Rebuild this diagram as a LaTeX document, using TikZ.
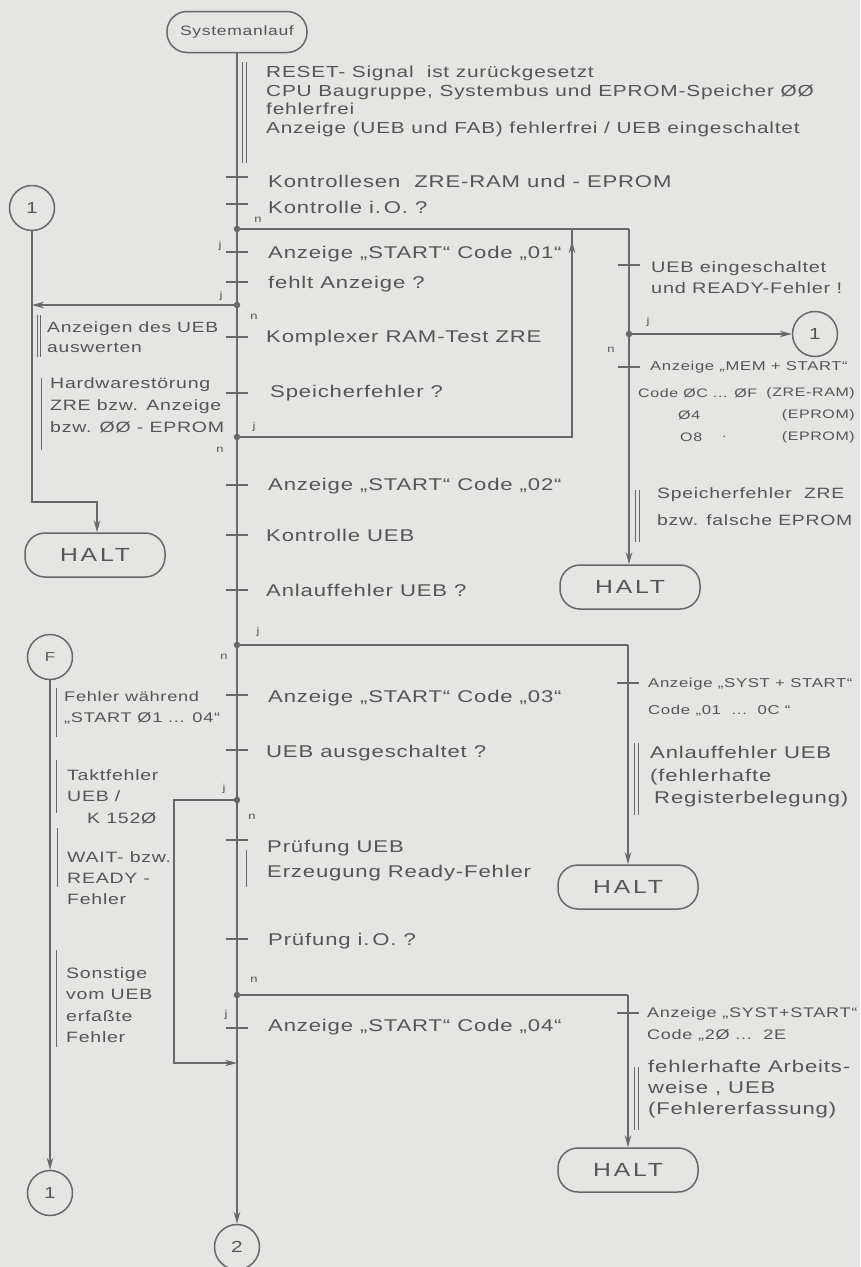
\documentclass[tikz,border=0pt]{standalone}
\usepackage{fontspec}
\setmainfont{Liberation Sans}[FakeStretch=1.3, LetterSpace=5]
\usetikzlibrary{arrows.meta}
\definecolor{bg}{HTML}{E5E5E3}
\definecolor{ink}{HTML}{686868}
\definecolor{txt}{HTML}{555555}
\newcommand\fs[2]{\fontsize{#1}{#2}\selectfont}
\tikzset{
  ln/.style={draw=ink, line width=1.5pt},
  arr/.style={ln, -{Stealth[length=12pt,width=6.5pt]}},
  term/.style={draw=ink, line width=1.5pt, rounded corners=20pt, minimum width=140pt, minimum height=44pt, inner sep=0pt, font=\fs{19}{20}\addfontfeature{LetterSpace=15}, text=txt},
  conn/.style={circle, draw=ink, line width=1.5pt, minimum size=45pt, inner sep=0pt, font=\fs{16}{16}, text=txt},
  lbl/.style={anchor=north west, text=txt, font=\fs{17}{25}, inner sep=0pt, align=left},
  one/.style={lbl, anchor=west},
  yn/.style={text=txt, font=\fs{10}{10}, inner sep=0pt},
  dot/.style={circle, fill=ink, inner sep=0pt, minimum size=6.5pt},
  bar/.style={draw=ink, line width=1pt},
}
\begin{document}
\begin{tikzpicture}[x=1pt,y=-1pt]
\fill[bg] (0,0) rectangle (860,1267);
\useasboundingbox (0,0) rectangle (860,1267);

% terminals and connectors
\node[term, minimum width=140pt, minimum height=41pt, font=\fs{13.5}{14}] (start) at (237,32) {Systemanlauf};
\node[term] (hL) at (95,555) {HALT};
\node[term] (h1) at (630,587) {HALT};
\node[term] (h2) at (628,887) {HALT};
\node[term] (h3) at (628,1170) {HALT};
\node[conn] (c1a) at (32,208) {1};
\node[conn] (c1b) at (815,334) {1};
\node[conn, font=\fs{13}{13}] (cF) at (50,657) {F};
\node[conn] (c1c) at (50,1193) {1};
\node[conn] (c2) at (237,1247) {2};

% branch dots
\node[dot] (b1) at (237,229) {};
\node[dot] (b2) at (237,305) {};
\node[dot] (b3) at (237,437) {};
\node[dot] (b4) at (237,645) {};
\node[dot] (b5) at (237,800) {};
\node[dot] (b6) at (237,995) {};
\node[dot] (b7) at (629,334) {};
\coordinate (r1) at (629,229);
\coordinate (r2) at (628,645);
\coordinate (r3) at (628,995);
\coordinate (lp1) at (572,437);
\coordinate (lp1t) at (572,229);
\coordinate (lp1a) at (572,300);
\coordinate (lp1b) at (572,241);
\coordinate (kL) at (97,502);
\coordinate (lp2a) at (174,800);
\coordinate (lp2b) at (174,1063);
\coordinate (lp2c) at (237,1063);

% main line
\draw[arr] (start) -- (c2);
% first branch (n) to the right
\draw[ln] (b1) -- (r1);
\draw[arr] (r1) -- (h1.north -| r1);
\draw[arr] (b7) -- (c1b);
% loop back from Speicherfehler
\draw[ln] (b3) -- (lp1) -- (lp1t);
\draw[arr] (lp1a) -- (lp1b);
% fehlt Anzeige -> left
\draw[arr] (b2) -- (b2 -| c1a);
\draw[arr] (c1a) -- (c1a |- kL) -- (kL) -- (kL |- hL.north);
% Anlauffehler UEB branch
\draw[ln] (b4) -- (r2);
\draw[arr] (r2) -- (h2);
% UEB ausgeschaltet loop
\draw[arr] (b5) -- (lp2a) -- (lp2b) -- (lp2c);
% Pruefung branch
\draw[ln] (b6) -- (r3);
\draw[arr] (r3) -- (h3);
% F column
\draw[arr] (cF) -- (c1c);

% ticks
\foreach \y in {177,204,252,282,337,393,485,535,590,695,750,840,939,1028}
  \draw[ln] (226,\y) -- (248,\y);
\foreach \y in {265,367}
  \draw[ln] (618,\y) -- (640,\y);
\foreach \y in {683,1013}
  \draw[ln] (617,\y) -- (639,\y);

% annotation bars
\draw[bar] (242,62) -- (242,163); \draw[bar] (246,62) -- (246,163);
\draw[bar] (37,315) -- (37,357); \draw[bar] (40,315) -- (40,357);
\draw[bar] (41,378) -- (41,450);
\draw[bar] (56,688) -- (56,737);
\draw[bar] (56,760) -- (56,813);
\draw[bar] (57,828) -- (57,887);
\draw[bar] (56,950) -- (56,1047);
\draw[bar] (246,850) -- (246,887);
\draw[bar] (635,490) -- (635,542); \draw[bar] (639,490) -- (639,542);
\draw[bar] (634,743) -- (634,815); \draw[bar] (638,743) -- (638,815);
\draw[bar] (634,1067) -- (634,1130); \draw[bar] (638,1067) -- (638,1130);

% y/n labels
\node[yn] (y1n) at (258,220) {n};
\node[yn] (y1j) at (220,246) {j};
\node[yn] (y2j) at (221,296) {j};
\node[yn] (y2n) at (254,317) {n};
\node[yn] (y3j) at (254,427) {j};
\node[yn] (y3n) at (220,450) {n};
\node[yn] (y7j) at (648,322) {j};
\node[yn] (y7n) at (611,350) {n};
\node[yn] (y4j) at (258,632) {j};
\node[yn] (y4n) at (224,657) {n};
\node[yn] (y5j) at (224,789) {j};
\node[yn] (y5n) at (252,817) {n};
\node[yn] (y6n) at (254,980) {n};
\node[yn] (y6j) at (226,1015) {j};

% main texts
\node[lbl, font=\fs{16}{18.5}] (t0) at (266,66) {RESET- Signal\ \ ist zurückgesetzt\\CPU Baugruppe, Systembus und EPROM-Speicher ØØ\\fehlerfrei\\Anzeige (UEB und FAB) fehlerfrei / UEB eingeschaltet};
\node[one] (t1) at (268,181) {Kontrollesen\ \ ZRE-RAM und - EPROM};
\node[one] (t2) at (268,207) {Kontrolle i.\,O. ?};
\node[one] (t3) at (268,254) {Anzeige „START“ Code „01“};
\node[one] (t4) at (268,284) {fehlt Anzeige ?};
\node[one] (t5) at (266,338) {Komplexer RAM-Test ZRE};
\node[one] (t6) at (270,393) {Speicherfehler ?};
\node[one] (t7) at (268,486) {Anzeige „START“ Code „02“};
\node[one] (t8) at (266,535) {Kontrolle UEB};
\node[one] (t9) at (266,590) {Anlauffehler UEB ?};
\node[one] (t10) at (268,698) {Anzeige „START“ Code „03“};
\node[one] (t11) at (266,753) {UEB ausgeschaltet ?};
\node[lbl] (t12) at (267,840) {Prüfung UEB\\Erzeugung Ready-Fehler};
\node[one] (t13) at (268,941) {Prüfung i.\,O. ?};
\node[one] (t14) at (268,1027) {Anzeige „START“ Code „04“};

% left texts
\node[lbl, font=\fs{14.8}{20}] (l1) at (47,322) {Anzeigen des UEB\\auswerten};
\node[lbl, font=\fs{15}{22}] (l2) at (50,377) {Hardwarestörung\\ZRE bzw. Anzeige\\bzw. ØØ - EPROM};
\node[lbl, font=\fs{14}{21}] (l3) at (64,691) {Fehler während\\„START Ø1 ... 04“};
\node[lbl, font=\fs{15}{21.5}] (l4) at (67,769) {Taktfehler\\UEB /\\\hspace*{20pt}K 152Ø};
\node[lbl, font=\fs{15}{21}] (l5) at (67,851) {WAIT- bzw.\\READY -\\Fehler};
\node[lbl, font=\fs{15}{21.5}] (l6) at (66,967) {Sonstige\\vom UEB\\erfaßte\\Fehler};

% right texts
\node[lbl, font=\fs{15.3}{21}] (ra1) at (651,261) {UEB eingeschaltet\\und READY-Fehler !};
\node[one, font=\fs{12.8}{14}] (ra2) at (650,367) {Anzeige „MEM + START“};
\node[one, font=\fs{12.3}{14}] (ra3) at (638,393) {Code ØC ... ØF};
\node[lbl, anchor=east, font=\fs{12.3}{14}] (ra4) at (855,393) {(ZRE-RAM)};
\node[one, font=\fs{12.3}{14}] (ra5) at (678,415) {Ø4};
\node[lbl, anchor=east, font=\fs{12.3}{14}] (ra6) at (855,415) {(EPROM)};
\node[one, font=\fs{12.3}{14}] (ra7) at (680,437) {O8};
\node[one, font=\fs{12.3}{14}] (ra8) at (722,437) {.};
\node[lbl, anchor=east, font=\fs{12.3}{14}] (ra9) at (855,437) {(EPROM)};
\node[lbl, font=\fs{14.9}{27}] (ra10) at (657,487) {Speicherfehler\ \ ZRE\\bzw. falsche EPROM};
\node[lbl, font=\fs{12.9}{27}] (rb1) at (648,678) {Anzeige „SYST + START“\\Code „01\ \ ...\ \ 0C “};
\node[lbl, font=\fs{17}{22.5}] (rb2) at (650,746) {Anlauffehler UEB\\(fehlerhafte\\\hspace*{4pt}Registerbelegung)};
\node[lbl, font=\fs{13.9}{22}] (rc1) at (647,1007) {Anzeige „SYST+START“\\Code „2Ø\ ...\ \ 2E};
\node[lbl, font=\fs{17}{21}] (rc2) at (648,1060) {fehlerhafte Arbeits-\\weise , UEB\\(Fehlererfassung)};
\end{tikzpicture}
\end{document}
